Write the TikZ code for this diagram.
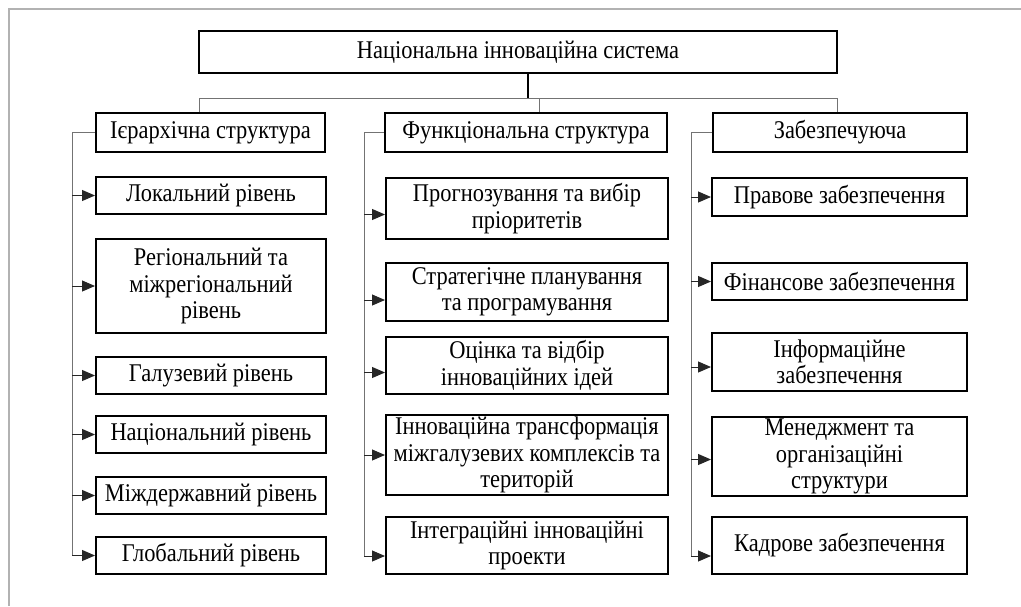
\documentclass[tikz,border=0pt]{standalone}
\usepackage{fontspec}
\setmainfont{Liberation Serif}[FakeStretch=0.88]
\usetikzlibrary{arrows.meta,positioning}

\begin{document}
\begin{tikzpicture}[
  x=1pt, y=-1pt,
  font=\fontsize{25.5}{26.5}\selectfont,
  box/.style={draw=black, line width=2pt, align=center, inner sep=2pt},
  link/.style={draw=black!55, line width=1pt},
  trunk/.style={draw=black, line width=2.8pt},
  arr/.style={-{Triangle[length=13pt,width=11pt]}, draw=black!85, fill=black, line width=1pt},
  frame/.style={draw=black!30, line width=1.8pt}
]
\useasboundingbox (0,0) rectangle (1021,606);
\draw[frame] (9,606) -- (9,9) -- (1021,9);

% top level
\node[box, minimum width=638pt, minimum height=42pt] (nis) at (518,52) {Національна інноваційна система};
\node[box, minimum width=229pt, minimum height=39pt] (hier) at (210.5,132.5) {Ієрархічна структура};
\node[box, minimum width=282pt, minimum height=39pt] (func) at (526,132.5) {Функціональна структура};
\node[box, minimum width=254pt, minimum height=39pt] (supp) at (840,132.5) {Забезпечуюча};

% hierarchy levels
\node[box, minimum width=230pt, minimum height=37pt] (loc) at (211,195.5) {Локальний рівень};
\node[box, minimum width=230pt, minimum height=94pt] (reg) at (211,286) {Регіональний та\\міжрегіональний\\рівень};
\node[box, minimum width=230pt, minimum height=37pt] (gal) at (211,375.5) {Галузевий рівень};
\node[box, minimum width=230pt, minimum height=37pt] (nat) at (211,434.5) {Національний рівень};
\node[box, minimum width=230pt, minimum height=37pt] (mizh) at (211,495.5) {Міждержавний рівень};
\node[box, minimum width=230pt, minimum height=37pt] (glob) at (211,555.5) {Глобальний рівень};

% functions
\node[box, minimum width=282pt, minimum height=61pt] (prog) at (527,208.5) {Прогнозування та вибір\\пріоритетів};
\node[box, minimum width=282pt, minimum height=58pt] (strat) at (527,292) {Стратегічне планування\\та програмування};
\node[box, minimum width=282pt, minimum height=57pt] (ots) at (527,365.5) {Оцінка та відбір\\інноваційних ідей};
\node[box, minimum width=282pt, minimum height=78pt] (trans) at (527,455) {Інноваційна трансформація\\міжгалузевих комплексів та\\територій};
\node[box, minimum width=282pt, minimum height=57pt] (integ) at (527,545.5) {Інтеграційні інноваційні\\проекти};

% support
\node[box, minimum width=255pt, minimum height=38pt] (prav) at (839.5,197) {Правове забезпечення};
\node[box, minimum width=255pt, minimum height=37pt] (fin) at (839.5,281.5) {Фінансове забезпечення};
\node[box, minimum width=255pt, minimum height=58pt] (inf) at (839.5,362) {Інформаційне\\забезпечення};
\node[box, minimum width=255pt, minimum height=75pt] (men) at (839.5,456.5) {Менеджмент та\\організаційні\\структури};
\node[box, minimum width=255pt, minimum height=57pt] (kadr) at (839.5,545.5) {Кадрове забезпечення};

% bus under the main box
\coordinate (busmain) at (528,98);
\coordinate (busl) at (199,98);
\coordinate (busm) at (539,98);
\coordinate (busr) at (837,98);
\draw[trunk] (busmain |- nis.south) -- (busmain);
\draw[link] (busl |- hier.north) -- (busl) -- (busr) -- (busr |- supp.north);
\draw[link] (busm) -- (busm |- func.north);

% spines
\coordinate (hs) at (72,555);
\coordinate (fs) at (364,556);
\coordinate (ss) at (691,556);
\draw[link] (hier.west) -| (hs);
\draw[link] (func.west) -| (fs);
\draw[link] (supp.west) -| (ss);

\draw[arr] (hs |- loc.west) -- (loc.west);
\draw[arr] (hs |- reg.west) -- (reg.west);
\draw[arr] (hs |- gal.west) -- (gal.west);
\draw[arr] (hs |- nat.west) -- (nat.west);
\draw[arr] (hs |- mizh.west) -- (mizh.west);
\draw[arr] (hs |- glob.west) -- (glob.west);

\draw[arr] (fs |- prog.west) ++(0,6) -- ([yshift=-6pt]prog.west);
\draw[arr] (fs |- strat.west) ++(0,8) -- ([yshift=-8pt]strat.west);
\draw[arr] (fs |- ots.west) ++(0,7) -- ([yshift=-7pt]ots.west);
\draw[arr] (fs |- trans.west) -- (trans.west);
\draw[arr] (fs) -- (fs -| integ.west);

\draw[arr] (ss |- prav.west) -- (prav.west);
\draw[arr] (ss |- fin.west) -- (fin.west);
\draw[arr] (ss |- inf.west) ++(0,5) -- ([yshift=-5pt]inf.west);
\draw[arr] (ss |- men.west) ++(0,3) -- ([yshift=-3pt]men.west);
\draw[arr] (ss) -- (ss -| kadr.west);
\end{tikzpicture}
\end{document}
